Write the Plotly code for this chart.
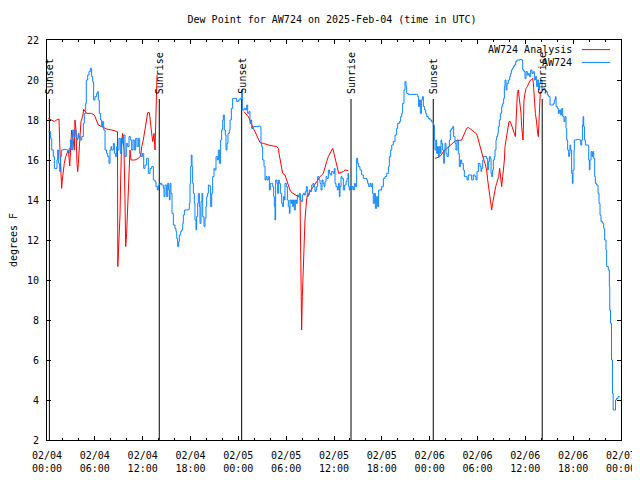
import plotly.graph_objects as go
import pandas as pd

START = "2025-02-04 00:00"
END = "2025-02-07 00:00"

# AW724 observations: hours after START, dew point (F)
obs_hours = [0.17,0.46,0.59,0.79,0.92,1.13,1.25,1.34,1.46,1.59,1.71,1.84,2.05,2.47,2.68,2.80,2.93,3.09,3.22,3.35,3.51,3.64,3.76,3.85,3.93,4.01,4.14,4.35,4.56,4.68,4.85,4.93,5.10,5.27,5.44,5.60,5.73,5.85,6.02,6.23,6.36,6.44,6.56,6.73,6.86,6.98,7.11,7.28,7.48,7.61,7.78,7.90,8.03,8.11,8.32,8.45,8.61,8.74,8.86,9.03,9.20,9.37,9.49,9.62,9.78,9.95,10.12,10.29,10.45,10.62,10.79,10.95,11.12,11.29,11.46,11.62,11.79,11.96,12.13,
             12.29,12.50,12.71,12.92,13.13,13.34,13.55,13.67,13.84,13.97,14.17,14.38,14.59,14.68,14.80,15.01,15.14,15.26,15.35,15.43,15.55,15.68,15.85,16.06,16.18,16.27,16.39,16.52,16.60,16.77,16.89,17.02,17.10,17.23,17.73,17.85,17.94,18.02,18.10,18.19,18.27,18.36,18.48,18.56,18.69,18.77,18.90,18.98,19.11,19.19,19.32,19.44,19.53,19.69,19.82,19.94,20.03,20.15,20.24,20.36,20.53,20.66,20.78,20.95,21.07,21.20,21.37,21.49,21.62,21.78,21.91,22.04,22.12,22.24,22.37,22.45,22.58,22.70,22.87,22.96,23.12,23.29,23.58,23.79,24.00,
             24.21,24.42,24.50,24.75,24.92,25.05,25.17,25.34,25.46,25.59,25.67,25.88,26.51,26.72,26.84,26.93,27.05,27.22,27.35,27.47,27.60,27.76,27.89,28.01,28.18,28.31,28.43,28.52,28.60,28.68,28.85,28.94,29.02,29.14,29.27,29.44,29.56,29.65,29.77,29.85,30.02,30.15,30.27,30.40,30.48,30.61,30.69,30.82,30.90,31.02,31.15,31.28,31.40,31.53,31.65,31.78,31.90,32.03,32.15,32.28,32.40,32.53,32.65,32.78,32.90,33.03,33.20,33.37,33.49,33.62,33.74,33.83,33.95,34.12,34.25,34.37,34.50,34.62,34.75,34.87,35.00,35.12,35.29,35.42,35.54,35.71,35.92,36.04,
             36.13,36.25,36.42,36.54,36.67,36.75,36.88,37.00,37.17,37.34,37.51,37.63,37.76,37.84,37.92,38.01,38.13,38.26,38.43,38.55,38.68,38.84,38.97,39.09,39.26,39.47,39.68,39.89,40.10,40.22,40.35,40.52,40.64,40.77,40.85,40.93,41.06,41.19,41.35,41.48,41.60,41.77,41.98,42.19,42.40,42.61,42.82,42.94,43.11,43.24,43.44,43.65,43.86,43.99,44.20,44.36,44.49,44.61,44.78,44.91,45.03,45.12,45.32,46.37,46.50,46.62,46.71,46.83,46.96,47.08,47.21,47.37,47.50,47.63,47.83,48.04,
             48.25,48.46,48.59,48.67,48.80,48.88,49.00,49.09,49.21,49.34,49.42,49.51,49.63,49.76,49.84,49.92,50.05,50.18,50.34,50.47,50.59,50.76,50.89,51.01,51.18,51.30,51.43,51.60,51.72,51.85,52.01,52.22,52.35,52.52,52.68,52.85,53.06,53.27,53.48,53.69,53.81,53.94,54.11,54.32,54.44,54.52,54.65,54.77,54.94,55.15,55.28,55.36,55.49,55.61,55.70,55.78,55.90,55.99,56.11,56.20,56.32,56.40,56.53,56.61,56.74,56.87,57.03,57.16,57.28,57.37,57.45,57.58,57.70,57.87,58.04,58.16,58.25,58.37,58.50,58.62,58.79,58.96,59.33,59.54,59.67,
             59.83,59.96,60.09,60.25,60.38,60.50,60.67,60.84,61.00,61.13,61.26,61.42,61.55,61.67,61.76,61.93,62.09,62.26,62.47,62.59,62.76,62.93,63.10,63.31,63.52,63.64,63.77,63.85,64.02,64.14,64.27,64.43,64.56,64.69,64.85,64.98,65.10,65.19,65.31,65.44,65.52,65.60,65.69,65.81,65.90,65.98,66.11,66.15,66.44,66.78,66.95,67.07,67.16,67.24,67.32,67.41,67.53,67.86,67.95,68.03,68.11,68.24,68.36,68.45,68.57,68.70,68.78,68.95,69.12,69.24,69.37,69.49,69.70,69.83,69.95,70.12,70.20,70.41,70.54,70.59,70.68,70.81,70.93,71.02,71.23,71.31,71.44,71.63,71.84]
obs_dewpt = [17.42,17.08,16.5,16.17,15.58,15.58,16.0,16.5,15.83,15.42,16.17,16.5,16.53,16.5,16.33,16.58,17.0,16.5,17.5,17.17,17.5,17.25,17.0,17.08,17.33,17.17,17.0,17.17,17.83,18.33,18.83,20.0,20.25,20.42,20.58,20.17,19.92,19.0,19.17,19.33,19.42,19.0,18.33,18.0,17.67,17.92,17.5,16.5,16.33,16.17,15.83,16.5,16.67,16.5,16.83,16.33,16.17,16.67,16.5,17.08,16.33,17.08,16.83,17.25,16.17,16.83,16.67,17.17,17.0,16.5,17.0,16.5,17.08,16.67,17.08,16.33,16.17,16.33,15.58,
             15.75,16.08,15.33,15.58,15.67,15.0,14.92,14.67,14.5,14.75,14.83,14.75,14.58,14.17,14.75,14.17,14.83,14.5,14.0,14.83,14.33,13.33,12.75,12.58,12.42,12.08,11.67,11.92,12.25,12.42,12.5,12.83,13.25,13.5,13.53,13.83,14.83,15.67,16.25,15.67,14.83,14.33,13.83,13.0,12.5,13.17,13.83,14.33,13.67,12.83,13.92,14.33,13.17,12.67,13.08,13.67,14.17,14.33,14.75,14.7,13.67,14.33,15.17,15.58,15.5,16.17,16.0,16.5,15.83,17.0,17.5,18.0,18.25,17.5,17.25,16.5,16.83,17.33,17.5,18.0,18.58,19.08,19.08,18.92,19.0,
             19.08,19.5,18.5,18.58,18.5,18.75,18.33,18.42,17.83,18.0,17.58,17.67,17.7,17.67,16.83,16.67,16.0,15.67,15.0,15.17,15.0,15.17,14.5,14.83,14.83,14.67,14.17,13.67,13.0,15.0,14.83,14.33,15.0,14.83,14.33,13.83,13.67,14.17,14.0,14.83,14.67,14.0,13.67,13.33,14.0,13.83,14.0,13.67,14.0,13.5,14.0,13.83,14.25,14.17,14.33,14.0,13.92,14.25,14.33,14.25,14.42,14.67,14.17,14.25,14.5,14.42,14.75,14.83,14.67,14.42,14.5,14.67,15.17,15.0,14.83,14.5,15.0,14.83,14.67,14.92,15.17,15.08,15.5,15.33,15.25,15.42,15.33,15.58,
             14.83,14.67,14.5,14.83,14.17,14.67,15.17,15.08,14.5,14.75,14.92,15.08,15.33,14.67,14.5,14.67,14.5,14.67,14.5,14.83,14.67,16.08,15.83,15.67,15.5,15.25,15.08,15.08,15.0,14.83,14.67,14.83,14.67,14.83,14.33,13.83,14.33,13.58,14.17,13.67,14.5,14.5,14.67,15.08,15.17,15.33,15.67,16.17,16.5,16.75,16.92,17.25,17.58,17.83,17.92,18.17,18.33,18.83,19.5,19.92,19.67,19.33,19.28,19.28,19.17,18.67,19.0,18.33,19.0,19.17,18.67,18.5,18.33,18.17,18.08,18.0,
             17.9,17.75,17.0,16.5,17.0,16.33,16.67,16.17,16.67,16.33,17.0,16.83,16.5,15.83,16.5,16.83,16.33,16.17,16.67,17.0,17.5,17.58,17.67,17.17,16.83,16.5,17.0,16.33,15.67,16.0,15.83,15.5,15.17,15.17,15.0,15.25,15.25,15.0,15.25,15.17,15.0,15.42,15.83,15.67,15.42,15.58,16.0,16.17,16.17,16.08,15.5,15.92,16.17,16.08,15.33,15.17,15.5,16.0,16.17,16.5,17.0,17.17,17.33,17.67,18.0,18.33,18.67,18.83,19.08,19.67,20.0,19.5,19.83,20.0,20.17,20.33,20.5,20.58,20.67,20.75,20.92,21.0,21.03,21.0,20.5,
             20.42,20.08,20.42,20.25,20.33,20.17,20.5,20.33,20.42,20.0,20.17,19.67,20.0,19.5,19.83,20.0,19.5,19.58,19.5,19.42,19.25,19.17,18.75,18.75,18.83,19.0,19.17,18.67,18.58,18.33,18.5,18.25,18.58,18.17,17.92,18.17,17.58,17.0,16.5,16.17,16.33,16.75,16.5,15.33,14.83,15.5,16.5,17.0,17.03,17.0,16.75,17.0,17.75,18.17,17.67,17.0,16.75,16.75,16.0,15.5,16.0,16.42,16.17,16.42,16.08,15.17,14.83,14.75,14.33,13.83,13.25,12.92,12.83,12.58,12.0,11.5,10.67,10.5,9.67,8.5,7.83,6.0,4.33,3.5,3.5,4.0,4.08,4.17,4.17]

# AW724 Analysis (None = gap)
ana_hours = [0.17,0.59,0.92,1.21,1.51,1.59,1.67,1.76,1.84,1.92,2.05,2.17,2.34,2.51,2.68,2.85,3.01,3.09,3.18,3.30,3.43,3.51,3.64,3.76,3.85,3.93,4.06,4.14,4.26,4.47,4.60,4.98,5.60,5.94,6.23,6.44,6.86,7.48,8.11,8.53,8.84,8.88,8.95,9.03,9.16,9.24,9.37,9.49,9.66,9.78,9.87,9.99,10.12,10.24,10.33,10.41,10.54,11.04,11.46,11.67,11.79,11.88,12.08,12.21,12.33,12.50,12.63,12.84,12.96,13.13,13.26,13.42,13.55,13.63,13.72,13.80,
             None,
             24.70,25.05,25.25,25.46,25.67,25.88,26.09,26.30,26.51,26.72,27.14,27.97,28.81,29.02,29.14,29.31,29.44,29.56,29.85,30.06,30.19,30.36,30.48,30.69,31.11,31.53,31.74,31.86,31.94,32.03,32.11,32.24,32.36,32.49,32.61,32.99,33.41,33.83,34.25,34.66,34.87,35.08,35.29,35.50,35.71,35.83,36.00,36.25,36.42,36.59,37.17,37.38,37.80,
             None,
             48.67,49.30,49.72,50.13,50.55,50.97,51.18,52.01,52.22,52.43,52.64,52.85,53.27,53.69,53.90,54.11,54.32,54.52,54.73,54.94,55.15,55.28,55.40,55.53,55.65,55.78,55.90,56.03,56.15,56.28,56.40,56.53,56.65,56.78,56.95,57.03,57.16,57.28,57.37,57.45,57.58,57.70,57.83,57.95,58.12,58.29,58.46,58.62,58.75,58.83,58.91,59.00,59.12,59.21,59.33,59.46,59.54,59.63,59.71,59.75,59.83,59.96,60.09,60.25,60.42,60.59,60.80,60.92,61.00,61.09,61.17,61.26,61.38,61.46,61.55,61.63,61.71,61.80,61.88]
ana_dewpt = [18.08,18.0,17.92,18.0,18.05,16.83,15.83,15.17,14.58,15.0,15.5,15.83,16.17,16.33,16.5,15.7,17.0,17.5,17.33,17.0,16.5,18.0,17.5,15.83,15.42,15.83,16.67,17.58,17.92,18.17,18.53,18.33,18.33,18.25,17.92,17.75,17.67,17.55,17.5,17.47,17.42,10.67,11.17,12.33,13.25,15.0,17.0,17.33,16.5,14.0,11.67,12.33,13.67,14.33,15.17,16.5,16.0,16.0,16.08,16.17,16.33,16.67,17.0,17.33,17.67,18.17,18.37,18.37,17.83,17.33,16.92,17.33,16.5,17.5,19.0,20.25,
             None,
             18.42,18.25,18.17,18.0,17.75,17.58,17.42,17.25,17.0,16.87,16.83,16.73,16.67,16.58,16.25,15.83,15.58,15.33,15.25,15.0,14.83,14.67,14.5,14.37,14.25,14.17,14.13,10.83,7.5,9.17,10.17,11.33,13.0,13.67,14.17,14.42,14.67,14.92,15.17,15.33,15.67,15.92,16.17,16.33,16.5,16.58,16.33,15.83,15.58,15.33,15.42,15.5,15.47,
             None,
             16.08,16.17,16.42,16.58,16.75,16.92,16.95,17.0,17.17,17.42,17.58,17.63,17.5,17.37,17.3,17.0,16.67,16.33,16.08,15.83,15.5,15.0,14.67,14.17,13.83,13.5,13.83,14.17,14.42,14.67,14.83,15.0,15.17,15.58,15.0,14.67,15.17,15.58,16.0,16.67,17.0,17.33,17.67,17.92,17.92,17.75,17.5,17.33,17.17,17.83,19.17,19.33,19.5,19.17,18.83,18.33,17.67,17.33,17.0,17.5,19.0,19.33,19.58,19.67,19.83,19.97,20.03,20.08,19.87,19.17,18.83,18.33,18.0,17.5,17.33,17.17,18.33,19.0,19.42]

sun_times = ["2025-02-04 00:18", "2025-02-04 14:05", "2025-02-05 00:25",
             "2025-02-05 14:08", "2025-02-06 00:27", "2025-02-06 14:07"]
sun_labels = ["Sunset", "Sunrise", "Sunset", "Sunrise", "Sunset", "Sunrise"]
sun_bottom = 2
sun_top = 19.05

tick_times = ["2025-02-04 00:00", "2025-02-04 06:00", "2025-02-04 12:00", "2025-02-04 18:00",
              "2025-02-05 00:00", "2025-02-05 06:00", "2025-02-05 12:00", "2025-02-05 18:00",
              "2025-02-06 00:00", "2025-02-06 06:00", "2025-02-06 12:00", "2025-02-06 18:00",
              "2025-02-07 00:00"]
tick_text = ["02/04<br>00:00", "02/04<br>06:00", "02/04<br>12:00", "02/04<br>18:00",
             "02/05<br>00:00", "02/05<br>06:00", "02/05<br>12:00", "02/05<br>18:00",
             "02/06<br>00:00", "02/06<br>06:00", "02/06<br>12:00", "02/06<br>18:00",
             "02/07<br>00:00"]
y_ticks = [2, 4, 6, 8, 10, 12, 14, 16, 18, 20, 22]

FONT = "DejaVu Sans Mono"
RED = "#ff0000"
BLUE = "#0a84ff"

t0 = pd.Timestamp(START)
def to_time(hours):
    return [None if h is None else t0 + pd.Timedelta(hours=h) for h in hours]

fig = go.Figure()

# sunrise / sunset lines
sx, sy = [], []
for t in sun_times:
    sx += [t, t, None]
    sy += [sun_bottom, sun_top, None]
fig.add_trace(go.Scatter(x=sx, y=sy, mode="lines", line=dict(color="black", width=1),
                         hoverinfo="skip", showlegend=False))

fig.add_trace(go.Scatter(x=to_time(ana_hours), y=ana_dewpt, mode="lines",
                         name="AW724 Analysis", line=dict(color=RED, width=1),
                         connectgaps=False))
fig.add_trace(go.Scatter(x=to_time(obs_hours), y=obs_dewpt, mode="lines",
                         name="AW724", line=dict(color=BLUE, width=1, shape="hv")))

for t, lab in zip(sun_times, sun_labels):
    fig.add_annotation(x=t, y=sun_top, xref="x", yref="y", text=lab, showarrow=False,
                       textangle=-90, xanchor="center", yanchor="bottom", yshift=3,
                       font=dict(family=FONT, size=10, color="black"))

# manual legend (text right, sample line left-to-right after it)
legend_names = ["AW724 Analysis", "AW724"]
legend_colors = [RED, BLUE]
legend_y = [0.976, 0.944]
for name, col, ly in zip(legend_names, legend_colors, legend_y):
    fig.add_annotation(x=0.918, y=ly, xref="paper", yref="paper", text=name,
                       showarrow=False, xanchor="right", yanchor="middle",
                       font=dict(family=FONT, size=10, color="black"))
    fig.add_shape(type="line", xref="paper", yref="paper", x0=0.932, x1=0.981,
                  y0=ly, y1=ly, line=dict(color=col, width=1))

# page has an 8px body margin, so the figure is sized to fit inside 640x480
fig.update_layout(
    width=632, height=472,
    margin=dict(l=39, r=19, t=32, b=40, autoexpand=False),
    paper_bgcolor="white", plot_bgcolor="white",
    showlegend=False,
    font=dict(family=FONT, size=10, color="black"),
    title=dict(text="Dew Point for AW724 on 2025-Feb-04 (time in UTC)",
               x=0.5127, xanchor="center", xref="container",
               y=0.9746, yanchor="middle", yref="container",
               font=dict(family=FONT, size=10, color="black")),
)
fig.update_xaxes(
    type="date", range=[START, END], automargin=False,
    showline=True, linecolor="black", linewidth=1, mirror="ticks",
    ticks="inside", ticklen=4, tickcolor="black", tickwidth=1,
    tickmode="array", tickvals=tick_times, ticktext=tick_text,
    showgrid=False, zeroline=False, ticklabelstandoff=6,
    minor=dict(tickmode="linear", tick0=START, dtick=2 * 3600 * 1000,
               ticks="inside", ticklen=2, tickcolor="black", showgrid=False),
    tickfont=dict(family=FONT, size=10, color="black"),
)
fig.update_yaxes(
    range=[2, 22], tickmode="array", tickvals=y_ticks, automargin=False,
    showline=True, linecolor="black", linewidth=1, mirror="ticks",
    ticks="inside", ticklen=4, tickcolor="black", tickwidth=1,
    showgrid=False, zeroline=False, ticklabelstandoff=5,
    tickfont=dict(family=FONT, size=10, color="black"),
    title=dict(text="degrees F", standoff=10, font=dict(family=FONT, size=10, color="black")),
)

fig.write_html("out.html")
